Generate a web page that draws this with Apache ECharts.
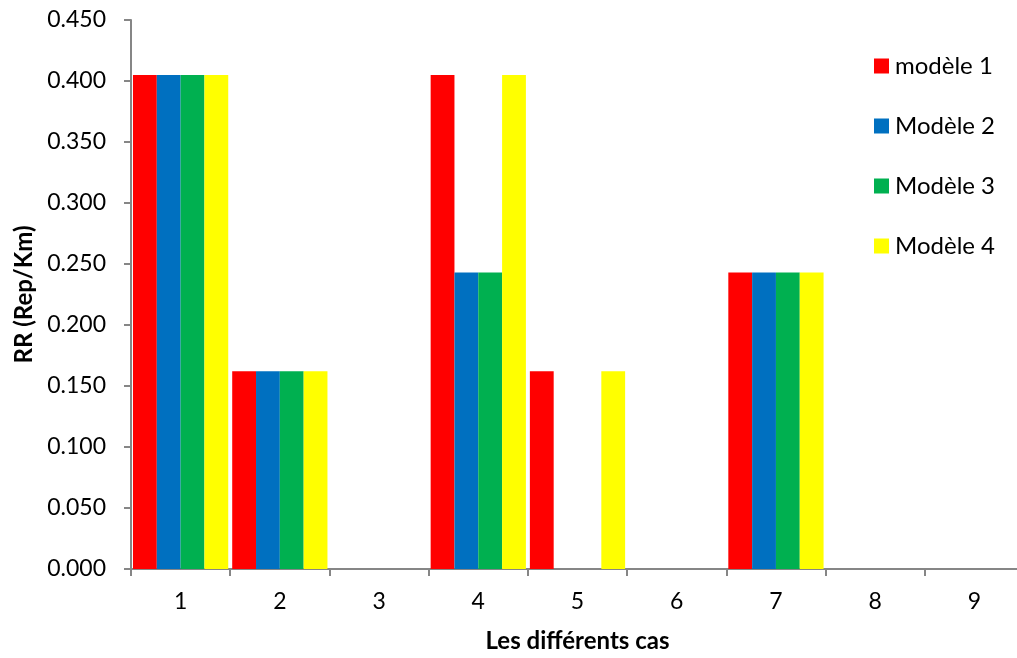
<!DOCTYPE html>
<html>
<head>
<meta charset="utf-8">
<script src="https://cdn.jsdelivr.net/npm/echarts@6/dist/echarts.min.js"></script>
<style>
  html, body { margin: 0; padding: 0; background: #fff; }
  #chart { width: 1017px; height: 658px; }
</style>
</head>
<body>
<div id="chart"></div>
<script>
// Cases along the x axis
const categories = ['1', '2', '3', '4', '5', '6', '7', '8', '9'];

// RR values (Rep/Km) per model
const modele1 = [0.405, 0.162, 0, 0.405, 0.162, 0, 0.243, 0, 0];
const modele2 = [0.405, 0.162, 0, 0.243, 0, 0, 0.243, 0, 0];
const modele3 = [0.405, 0.162, 0, 0.243, 0, 0, 0.243, 0, 0];
const modele4 = [0.405, 0.162, 0, 0.405, 0.162, 0, 0.243, 0, 0];

const seriesNames = ['modèle 1', 'Modèle 2', 'Modèle 3', 'Modèle 4'];
const seriesData = [modele1, modele2, modele3, modele4];
const colors = ['#FF0000', '#0070C0', '#00B050', '#FFFF00'];

const FONT = 'Lato, "Open Sans", sans-serif';
const axisGrey = '#868686';

const chart = echarts.init(document.getElementById('chart'), null, { renderer: 'canvas' });

chart.setOption({
  animation: false,
  backgroundColor: '#ffffff',
  color: colors,
  // the plot runs slightly past the right edge of the canvas
  grid: { left: 131, top: 20, width: 893, height: 549, containLabel: false, outerBoundsMode: 'none' },
  legend: {
    orient: 'vertical',
    left: 869,
    top: 49,
    itemWidth: 15,
    itemHeight: 15,
    itemGap: 36,
    icon: 'rect',
    textStyle: { fontFamily: FONT, fontSize: 24, color: '#000', lineHeight: 24, padding: [0, 0, 0, 1] },
    data: seriesNames
  },
  xAxis: {
    type: 'category',
    data: categories,
    name: 'Les différents cas',
    nameLocation: 'middle',
    nameGap: 60,
    nameTextStyle: { fontFamily: FONT, fontSize: 24, fontWeight: 'bold', color: '#000' },
    axisLine: { lineStyle: { color: axisGrey, width: 2 } },
    axisTick: { show: true, length: 7, alignWithLabel: false, lineStyle: { color: axisGrey, width: 2 } },
    axisLabel: { fontFamily: FONT, fontSize: 23, color: '#000', margin: 21 },
    splitLine: { show: false }
  },
  yAxis: {
    type: 'value',
    min: 0,
    max: 0.45,
    interval: 0.05,
    name: 'RR (Rep/Km)',
    nameLocation: 'middle',
    nameGap: 94,
    nameRotate: 90,
    nameTextStyle: { fontFamily: FONT, fontSize: 24, fontWeight: 'bold', color: '#000' },
    axisLine: { show: true, lineStyle: { color: axisGrey, width: 2 } },
    axisTick: { show: true, length: 7, lineStyle: { color: axisGrey, width: 2 } },
    axisLabel: {
      fontFamily: FONT, fontSize: 23, color: '#000', margin: 25,
      formatter: v => v.toFixed(3)
    },
    splitLine: { show: false }
  },
  series: seriesNames.map((name, i) => ({
    name: name,
    type: 'bar',
    data: seriesData[i],
    barGap: '0%',
    barCategoryGap: '4%',
    itemStyle: { color: colors[i] }
  }))
});
</script>
</body>
</html>
